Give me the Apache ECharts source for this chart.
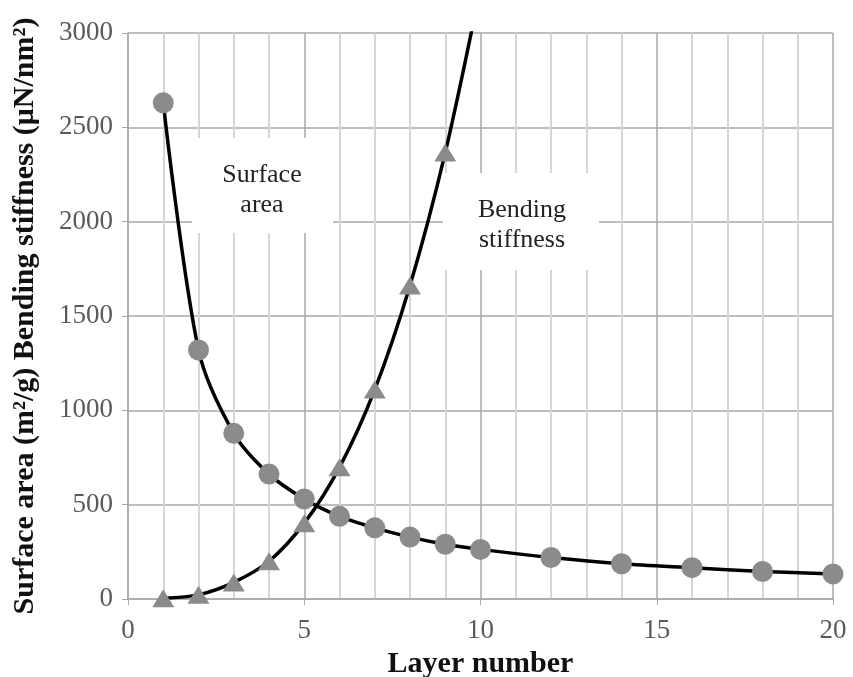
<!DOCTYPE html>
<html>
<head>
<meta charset="utf-8">
<script src="https://cdn.jsdelivr.net/npm/echarts@6/dist/echarts.min.js"></script>
<style>
  html, body { margin: 0; padding: 0; background: #fff; }
  #chart { width: 853px; height: 677px; }
</style>
</head>
<body>
<div id="chart"></div>
<script>
// layer numbers and values
var surfaceLayers = [1, 2, 3, 4, 5, 6, 7, 8, 9, 10, 12, 14, 16, 18, 20];
var surfaceArea = [2630, 1320, 878, 662, 530, 438, 377, 328, 290, 263, 220, 187, 166, 146, 133];

var bendingLayers = [1, 2, 3, 4, 5, 6, 7, 8, 9, 10];
var bendingStiffness = [4, 22, 88, 200, 402, 698, 1110, 1662, 2366, 3240];

var xTicks = [0, 5, 10, 15, 20];
var yTicks = [0, 500, 1000, 1500, 2000, 2500, 3000];

function pairs(xs, ys) {
    return xs.map(function (x, i) { return [x, ys[i]]; });
}

var serif = '"Liberation Serif", "DejaVu Serif", serif';
var markerColor = '#8b8b8b';

var chart = echarts.init(document.getElementById('chart'));

var option = {
    animation: false,
    backgroundColor: '#fff',
    grid: {
        left: 128,
        right: 20,
        top: 33,
        bottom: 78,
        outerBoundsMode: 'none',
        containLabel: false,
        show: false
    },
    xAxis: {
        type: 'value',
        min: xTicks[0],
        max: xTicks[xTicks.length - 1],
        interval: 5,
        name: 'Layer number',
        nameLocation: 'middle',
        nameGap: 45,
        nameTextStyle: { fontFamily: serif, fontWeight: 'bold', fontSize: 30, color: '#111' },
        axisLine: { show: true, lineStyle: { color: '#a8a8a8', width: 1.5 } },
        axisTick: { show: true, length: 6, lineStyle: { color: '#a8a8a8' } },
        axisLabel: { fontFamily: serif, fontSize: 27, color: '#5a5a5a', margin: 18 },
        splitLine: { show: true, lineStyle: { color: '#a8a8a8', width: 1.5 } },
        minorTick: { show: false, splitNumber: 5 },
        minorSplitLine: { show: true, lineStyle: { color: '#d6d6d6', width: 2 } }
    },
    yAxis: {
        type: 'value',
        min: yTicks[0],
        max: yTicks[yTicks.length - 1],
        interval: 500,
        name: 'Surface area (m²/g) Bending stiffness (μN/nm²)',
        nameLocation: 'middle',
        nameGap: 88,
        nameTextStyle: { fontFamily: serif, fontWeight: 'bold', fontSize: 30, color: '#111' },
        axisLine: { show: true, lineStyle: { color: '#a8a8a8', width: 1.5 } },
        axisTick: { show: true, length: 6, lineStyle: { color: '#a8a8a8' } },
        axisLabel: {
            fontFamily: serif, fontSize: 27, color: '#5a5a5a', margin: 15,
            formatter: function (v) { return String(v); }
        },
        splitLine: { show: true, lineStyle: { color: '#a8a8a8', width: 1.5 } }
    },
    graphic: [
        { type: 'rect', z: 10, shape: { x: 192, y: 138, width: 141, height: 95 }, style: { fill: '#fff' } },
        {
            type: 'text', z: 11, x: 262, y: 190,
            style: {
                text: 'Surface\narea', fontFamily: serif, fontSize: 26, fill: '#222',
                align: 'center', verticalAlign: 'middle', lineHeight: 30
            }
        },
        { type: 'rect', z: 10, shape: { x: 443, y: 173, width: 156, height: 97 }, style: { fill: '#fff' } },
        {
            type: 'text', z: 11, x: 522, y: 225,
            style: {
                text: 'Bending\nstiffness', fontFamily: serif, fontSize: 26, fill: '#222',
                align: 'center', verticalAlign: 'middle', lineHeight: 30
            }
        }
    ],
    series: [
        {
            name: 'Surface area',
            type: 'line',
            data: pairs(surfaceLayers, surfaceArea),
            smooth: 0.3,
            clip: true,
            symbol: 'circle',
            symbolSize: 21,
            itemStyle: { color: markerColor },
            lineStyle: { color: '#000', width: 3.5 },
            z: 3
        },
        {
            name: 'Bending stiffness',
            type: 'line',
            data: pairs(bendingLayers, bendingStiffness),
            smooth: 0.3,
            clip: true,
            symbol: 'triangle',
            symbolSize: [22, 18],
            itemStyle: { color: markerColor },
            lineStyle: { color: '#000', width: 3.5 },
            z: 3
        }
    ]
};

chart.setOption(option);
</script>
</body>
</html>
